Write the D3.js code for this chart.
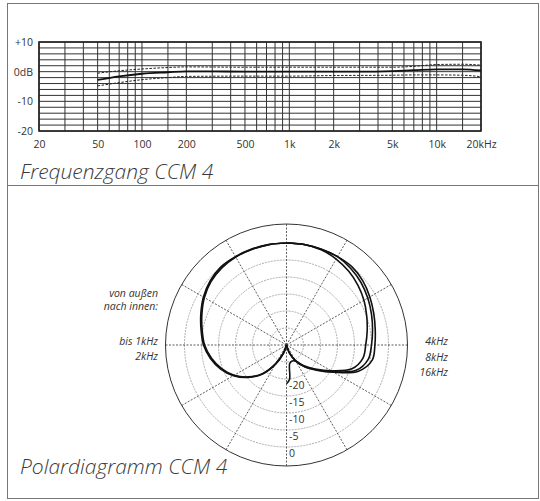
<!DOCTYPE html>
<html>
<head>
<meta charset="utf-8">
<script src="https://cdn.jsdelivr.net/npm/d3@7"></script>
<style>
  body { margin: 0; background: #fff; }
  svg { display: block; font-family: "Open Sans", "DejaVu Sans", sans-serif; }
</style>
</head>
<body>
<svg width="540" height="501"></svg>
<script>
// --- Frequenzgang data ---
const gridFreqs = [20,30,40,50,60,70,80,90,100,150,200,300,400,500,600,700,800,900,
  1000,1500,2000,3000,4000,5000,6000,7000,8000,9000,10000,15000,20000]
const gridDb = d3.range(-20, 11, 2)
const xTicks = [20,50,100,200,500,1000,2000,5000,10000,20000]
const xTickLabels = ["20","50","100","200","500","1k","2k","5k","10k","20kHz"]
const yTicks = [10,0,-10,-20]
const yTickLabels = ["+10","0dB","-10","-20"]

const freqSolid = [50,70,100,150,200,300,500,1000,2000,3000,5000,7000,10000,15000,20000]
const dbSolid = [-2.8,-1.6,-0.7,-0.2,0.1,0.1,0,0,0,0,0.2,0.5,0.8,0.8,0.4]

const freqTol = [50,70,100,150,200,500,1000,2000,5000,7000,10000,15000,20000]
const tolUpper = [-0.5,0.3,0.9,1.4,1.6,1.5,1.5,1.5,1.5,1.8,2.4,2.5,2.2]
const tolLower = [-4.8,-3.7,-2.7,-2.0,-1.6,-1.5,-1.5,-1.3,-1.2,-1.1,-1.1,-1.2,-1.7]

// --- Polardiagramm data (degrees from front, dB) ---
const angles = [0,10,20,30,40,50,60,70,80,90,100,110,120,130,140,150,160,170,175,180]
const pol1k  = [0,0,0.1,0.2,0,-0.7,-1.8,-3.2,-4.5,-5.6,-7.3,-9.4,-12,-15.2,-18.8,-23.5,-27.5,-30,-30,-30]
const pol2k  = [0,0,-0.1,-0.1,-0.4,-1.0,-2.1,-3.5,-4.8,-5.9,-7.6,-9.7,-12.2,-15.4,-19,-23.7,-27.7,-30,-30,-30]
const pol4k  = [0,0.2,0.4,0.4,0,-0.7,-1.7,-2.7,-3.5,-4.0,-4.4,-7.5,-14,-18.5,-21.5,-24.5,-27.5,-30,-30,-30]
const pol8k  = [0,0.1,0.2,0,-0.6,-1.4,-2.4,-3.4,-4.3,-5.0,-5.6,-8.2,-14.3,-18.7,-21.7,-24.7,-27.7,-30,-30,-30]
const pol16k = [0,0,-0.2,-0.8,-1.6,-2.6,-3.7,-4.9,-5.9,-6.7,-7.2,-9.5,-14.8,-19,-22,-24.5,-25,-24.5,-19.8,-18.6]
const ringDb = [0,-5,-10,-15,-20,-25]
const ringLabels = ["0","-5","-10","-15","-20"]

const svg = d3.select("svg")
const ink = "#222"

// frame
svg.append("rect").attr("x", 7.5).attr("y", 3.5).attr("width", 531).attr("height", 495)
  .attr("fill", "none").attr("stroke", "#777").attr("stroke-width", 1)
svg.append("line").attr("x1", 7.5).attr("x2", 538.5).attr("y1", 185.5).attr("y2", 185.5)
  .attr("stroke", "#777")

// ================= Frequenzgang =================
const x = d3.scaleLog().domain([20, 20000]).range([39, 481])
const y = d3.scaleLinear().domain([-20, 10]).range([131, 42])

const fr = svg.append("g")

fr.append("g").selectAll("line").data(gridFreqs).join("line")
  .attr("x1", d => x(d)).attr("x2", d => x(d))
  .attr("y1", y(10)).attr("y2", y(-20))
  .attr("stroke", "#333").attr("stroke-width", 1)

fr.append("g").selectAll("line").data(gridDb).join("line")
  .attr("x1", x(20)).attr("x2", x(20000))
  .attr("y1", d => y(d)).attr("y2", d => y(d))
  .attr("stroke", "#333").attr("stroke-width", 1)

fr.append("rect").attr("x", x(20)).attr("y", y(10))
  .attr("width", x(20000) - x(20)).attr("height", y(-20) - y(10))
  .attr("fill", "none").attr("stroke", ink).attr("stroke-width", 1.6)

const xAxis = d3.axisBottom(x).tickValues(xTicks)
  .tickFormat((d, i) => xTickLabels[i]).tickSize(0).tickPadding(10)
fr.append("g").attr("transform", `translate(0,${y(-20)})`).call(xAxis)
  .call(g => g.select(".domain").remove())
  .selectAll("text").attr("font-size", 10.5).attr("fill", "#333")
  .attr("font-family", "Open Sans, sans-serif")

const yAxis = d3.axisLeft(y).tickValues(yTicks)
  .tickFormat((d, i) => yTickLabels[i]).tickSize(0).tickPadding(6)
fr.append("g").attr("transform", `translate(${x(20)},0)`).call(yAxis)
  .call(g => g.select(".domain").remove())
  .selectAll("text").attr("font-size", 10.5).attr("fill", "#333")
  .attr("font-family", "Open Sans, sans-serif")

const fLine = d3.line().curve(d3.curveMonotoneX)

fr.append("path")
  .attr("d", fLine(freqTol.map((f, i) => [x(f), y(tolUpper[i])])))
  .attr("fill", "none").attr("stroke", ink).attr("stroke-width", 1)
  .attr("stroke-dasharray", "2.5,1.5")
fr.append("path")
  .attr("d", fLine(freqTol.map((f, i) => [x(f), y(tolLower[i])])))
  .attr("fill", "none").attr("stroke", ink).attr("stroke-width", 1)
  .attr("stroke-dasharray", "2.5,1.5")
fr.append("path")
  .attr("d", fLine(freqSolid.map((f, i) => [x(f), y(dbSolid[i])])))
  .attr("fill", "none").attr("stroke", "#111").attr("stroke-width", 1.8)

svg.append("text").attr("x", 20).attr("y", 179)
  .attr("font-size", 21).attr("font-style", "italic").attr("font-weight", 300)
  .attr("fill", "#3a3a3a")
  .text("Frequenzgang CCM 4")

// ================= Polardiagramm =================
const cx = 286.5, cy = 345, outerR = 121
const r = d3.scaleLinear().domain([-30, 0]).range([0, 102]).clamp(true)

const pol = svg.append("g").attr("transform", `translate(${cx},${cy})`)

pol.append("g").selectAll("circle").data(ringDb).join("circle")
  .attr("r", d => r(d))
  .attr("fill", "none").attr("stroke", "#999").attr("stroke-width", 0.8)
  .attr("stroke-dasharray", "2,1")

pol.append("g").selectAll("line").data(d3.range(0, 360, 30)).join("line")
  .attr("x1", 0).attr("y1", 0)
  .attr("x2", d => outerR * Math.sin(d * Math.PI / 180))
  .attr("y2", d => -outerR * Math.cos(d * Math.PI / 180))
  .attr("stroke", "#333").attr("stroke-width", 0.8).attr("stroke-dasharray", "2,1.5")

pol.append("circle").attr("r", outerR)
  .attr("fill", "none").attr("stroke", "#333").attr("stroke-width", 1)

pol.append("g").selectAll("text").data(ringLabels).join("text")
  .attr("x", 2.5).attr("y", (d, i) => r(ringDb[i]) + 10)
  .attr("font-size", 10.5).attr("fill", "#333")
  .text(d => d)

const radial = d3.lineRadial().curve(d3.curveCatmullRom.alpha(0.5))
const leftSide = [pol1k, pol2k]
const rightSide = [pol4k, pol8k, pol16k]

pol.append("g").selectAll("path").data(leftSide).join("path")
  .attr("d", s => radial(angles.map((a, i) => [-a * Math.PI / 180, r(s[i])])))
  .attr("fill", "none").attr("stroke", "#111").attr("stroke-width", 1.7)

pol.append("g").selectAll("path").data(rightSide).join("path")
  .attr("d", s => radial(angles.map((a, i) => [a * Math.PI / 180, r(s[i])])))
  .attr("fill", "none").attr("stroke", "#111").attr("stroke-width", 1.6)

const note = svg.append("g").attr("font-size", 10.5).attr("font-style", "italic")
  .attr("fill", "#333").attr("text-anchor", "end")
note.append("text").attr("x", 158).attr("y", 297).text("von außen")
note.append("text").attr("x", 158).attr("y", 310).text("nach innen:")
note.append("text").attr("x", 158).attr("y", 345).text("bis 1kHz")
note.append("text").attr("x", 158).attr("y", 360).text("2kHz")
note.append("text").attr("x", 448).attr("y", 345).text("4kHz")
note.append("text").attr("x", 448).attr("y", 361).text("8kHz")
note.append("text").attr("x", 448).attr("y", 376).text("16kHz")

svg.append("text").attr("x", 20).attr("y", 474)
  .attr("font-size", 21).attr("font-style", "italic").attr("font-weight", 300)
  .attr("fill", "#3a3a3a")
  .text("Polardiagramm CCM 4")
</script>
</body>
</html>
